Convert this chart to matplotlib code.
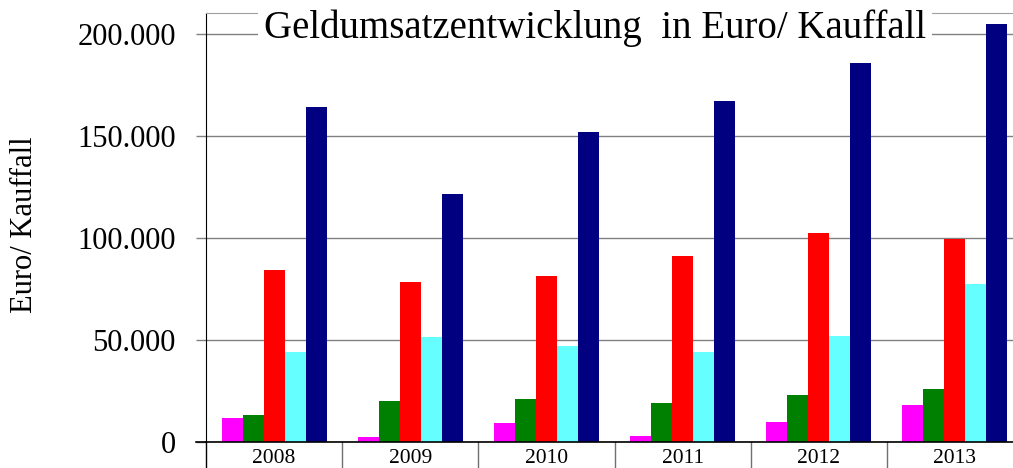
import matplotlib
matplotlib.use("Agg")
import matplotlib.pyplot as plt
import numpy as np

years = ["2008", "2009", "2010", "2011", "2012", "2013"]
magenta = [11500, 2200, 9300, 2800, 9700, 18000]
green = [13100, 20000, 21000, 18800, 22900, 26000]
red = [84300, 78400, 81300, 91100, 102400, 99500]
cyan = [44000, 51400, 47000, 44000, 51900, 77200]
navy = [164200, 121500, 152000, 167000, 185800, 205100]
series = [magenta, green, red, cyan, navy]
colors = ["#FF00FF", "#008000", "#FF0000", "#66FFFF", "#000080"]
yticks = [0, 50000, 100000, 150000, 200000]
title = "Geldumsatzentwicklung  in Euro/ Kauffall"
ylabel = "Euro/ Kauffall"

plt.rcParams['font.family'] = ['Liberation Serif', 'DejaVu Serif']

W, H = 1013, 468
fig = plt.figure(figsize=(W / 100, H / 100), dpi=100)
x0, x1, ytop, ybot = 206, 1023, 13, 441.7
ax = fig.add_axes([x0 / W, 1 - ybot / H, (x1 - x0) / W, (ybot - ytop) / H])

x = np.arange(len(years))
bw = 0.154
for i, (vals, c) in enumerate(zip(series, colors)):
    ax.bar(x + (i - 2) * bw, vals, width=bw, color=c, edgecolor='none', zorder=2)

ax.set_xlim(-0.5, len(years) - 0.5)
ax.set_ylim(0, 210300)
ax.set_yticks(yticks)
ax.set_yticklabels([f"{v:,}".replace(",", ".") for v in yticks], fontsize=22)
ax.set_xticks(x)
ax.set_xticklabels(years, fontsize=15.5)
ax.tick_params(axis='y', length=7.2, width=1, color='#808080', pad=14.5)
ax.tick_params(axis='x', length=0, pad=5.5)
ax.yaxis.grid(True, color='#808080', lw=1)
ax.set_axisbelow(True)

ax.spines['right'].set_visible(False)
ax.spines['top'].set_color('#a0a0a0')
ax.spines['left'].set_color('black')
ax.spines['bottom'].set_color('black')
ax.spines['bottom'].set_linewidth(1.2)

# category separators below the axis
trans = matplotlib.transforms.blended_transform_factory(ax.transData, ax.transAxes)
for k in range(len(years) + 1):
    ax.plot([k - 0.5, k - 0.5], [0, -0.065], transform=trans, clip_on=False,
            color='black' if k == 0 else '#707070', lw=1)
# zero tick extends left
ax.plot([-0.5 - 10 / 136.2, -0.5], [0, 0], transform=trans, clip_on=False, color='black', lw=1.2)

fig.text(595 / W, 1 - 28 / H, title, ha='center', va='center', fontsize=28,
         bbox=dict(facecolor='white', edgecolor='none', pad=4))
fig.text(25 / W, 1 - 225 / H, ylabel, rotation=90, ha='center', va='center', fontsize=22)

fig.savefig("out.png", dpi=100)
